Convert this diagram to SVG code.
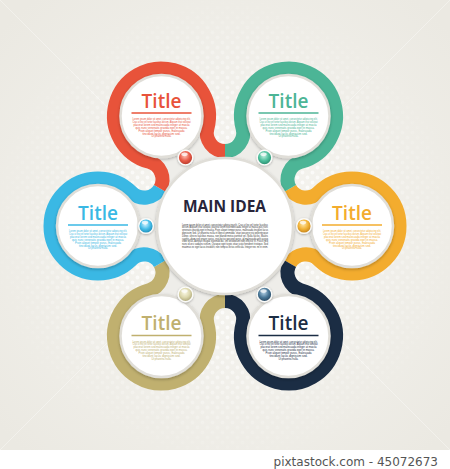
<svg xmlns="http://www.w3.org/2000/svg" width="450" height="469" viewBox="0 0 450 469">
<defs>
<style>
.band{fill:none;stroke-width:14;stroke-linecap:butt}
.disk{fill:#fff;stroke:#e0ded8;stroke-width:2.5;filter:url(#sh)}
.title{font-family:"Open Sans","Liberation Sans",sans-serif;font-weight:600;font-size:19px;text-anchor:middle}
.body{font-family:"Liberation Sans",sans-serif;font-size:3px;text-anchor:middle}
.ul{stroke-width:1.3}
.bead{stroke:#fbfbf9;stroke-width:1.4;filter:url(#bsh)}
.hl{fill:#fff;opacity:.75}
</style>
<filter id="sh" x="-20%" y="-20%" width="140%" height="140%"><feDropShadow dx="0" dy="1.2" stdDeviation="1.6" flood-color="#000" flood-opacity="0.28"/></filter>
<filter id="bsh" x="-40%" y="-40%" width="180%" height="180%"><feDropShadow dx="0" dy="0.8" stdDeviation="0.9" flood-color="#000" flood-opacity="0.3"/></filter>
<radialGradient id="bg" cx="225" cy="230" r="300" gradientUnits="userSpaceOnUse"><stop offset="0" stop-color="#f7f6f2"/><stop offset="1" stop-color="#ebe9e2"/></radialGradient>
<radialGradient id="mg" cx="225" cy="230" r="235" gradientUnits="userSpaceOnUse"><stop offset="0.35" stop-color="#fff" stop-opacity="1"/><stop offset="1" stop-color="#fff" stop-opacity="0"/></radialGradient>
<mask id="dm"><rect width="450" height="450" fill="url(#mg)"/></mask>
<pattern id="dots" width="10" height="10" patternUnits="userSpaceOnUse"><circle cx="2.5" cy="2.5" r="1.9" fill="#fff"/><circle cx="7.5" cy="7.5" r="1.9" fill="#fff"/></pattern>
<radialGradient id="b-red" cx="0.45" cy="0.38" r="0.62"><stop offset="0" stop-color="#ffc2b5"/><stop offset="0.55" stop-color="#e85b48"/><stop offset="1" stop-color="#b3382a"/></radialGradient>
<radialGradient id="b-teal" cx="0.45" cy="0.38" r="0.62"><stop offset="0" stop-color="#c2f0e0"/><stop offset="0.55" stop-color="#4cbf9c"/><stop offset="1" stop-color="#2a8a6c"/></radialGradient>
<radialGradient id="b-blue" cx="0.45" cy="0.38" r="0.62"><stop offset="0" stop-color="#d0f2ff"/><stop offset="0.55" stop-color="#45bde8"/><stop offset="1" stop-color="#1d8ab5"/></radialGradient>
<radialGradient id="b-orange" cx="0.45" cy="0.38" r="0.62"><stop offset="0" stop-color="#ffe6a8"/><stop offset="0.55" stop-color="#f1b236"/><stop offset="1" stop-color="#c2801a"/></radialGradient>
<radialGradient id="b-khaki" cx="0.45" cy="0.38" r="0.62"><stop offset="0" stop-color="#fbf9e6"/><stop offset="0.55" stop-color="#dcd7ac"/><stop offset="1" stop-color="#aaa376"/></radialGradient>
<radialGradient id="b-navy" cx="0.45" cy="0.38" r="0.62"><stop offset="0" stop-color="#b6d2e6"/><stop offset="0.55" stop-color="#4a7797"/><stop offset="1" stop-color="#27445d"/></radialGradient>
</defs>

<!-- background -->
<rect width="450" height="469" fill="#ffffff"/>
<rect width="450" height="450" fill="url(#bg)"/>
<rect width="450" height="450" fill="url(#dots)" mask="url(#dm)" opacity="0.75"/>
<g stroke="#ffffff" stroke-width="0.8" opacity="0.45">
<line x1="0" y1="0" x2="450" y2="450"/>
<line x1="450" y1="0" x2="0" y2="450"/>
</g>

<!-- flower base fill -->
<path d="M289.95,188.5 A18.185,18.185 0 0 0 318.52,192.31 A47.5,47.5 0 1 1 318.52,259.69 A18.185,18.185 0 0 0 289.95,263.5 A18.185,18.185 0 0 0 300.94,290.14 A47.5,47.5 0 1 1 242.58,323.84 A18.185,18.185 0 0 0 225,301 A18.185,18.185 0 0 0 207.42,323.84 A47.5,47.5 0 1 1 149.06,290.14 A18.185,18.185 0 0 0 160.05,263.5 A18.185,18.185 0 0 0 131.48,259.69 A47.5,47.5 0 1 1 131.48,192.31 A18.185,18.185 0 0 0 160.05,188.5 A18.185,18.185 0 0 0 149.06,161.86 A47.5,47.5 0 1 1 207.42,128.16 A18.185,18.185 0 0 0 225,151 A18.185,18.185 0 0 0 242.58,128.16 A47.5,47.5 0 1 1 300.94,161.86 A18.185,18.185 0 0 0 289.95,188.5 Z" fill="#eeede9"/>

<!-- connectors: coloured bands -->
<g id="connectors">
<path class="band" stroke="#f3ac2e" d="M289.95,188.5 A18.185,18.185 0 0 0 318.52,192.31 A47.5,47.5 0 1 1 318.52,259.69 A18.185,18.185 0 0 0 289.95,263.5"/>
<path class="band" stroke="#1b2d44" d="M289.95,263.5 A18.185,18.185 0 0 0 300.94,290.14 A47.5,47.5 0 1 1 242.58,323.84 A18.185,18.185 0 0 0 225,301"/>
<path class="band" stroke="#c0b06f" d="M225,301 A18.185,18.185 0 0 0 207.42,323.84 A47.5,47.5 0 1 1 149.06,290.14 A18.185,18.185 0 0 0 160.05,263.5"/>
<path class="band" stroke="#3ab8e4" d="M160.05,263.5 A18.185,18.185 0 0 0 131.48,259.69 A47.5,47.5 0 1 1 131.48,192.31 A18.185,18.185 0 0 0 160.05,188.5"/>
<path class="band" stroke="#e8533a" d="M160.05,188.5 A18.185,18.185 0 0 0 149.06,161.86 A47.5,47.5 0 1 1 207.42,128.16 A18.185,18.185 0 0 0 225,151"/>
<path class="band" stroke="#4cb596" d="M225,151 A18.185,18.185 0 0 0 242.58,128.16 A47.5,47.5 0 1 1 300.94,161.86 A18.185,18.185 0 0 0 289.95,188.5"/>
</g>

<!-- main idea -->
<g id="main">
<circle class="disk" cx="225" cy="226" r="68"/>
<text x="224.5" y="211.7" font-family="'Open Sans','Liberation Sans',sans-serif" font-weight="700" font-size="15.5" fill="#28253a" text-anchor="middle">MAIN IDEA</text>
<g class="body" fill="#3a3a3a">
<text x="225" y="225.5" textLength="86" lengthAdjust="spacingAndGlyphs">Lorem ipsum dolor sit amet, consectetur adipiscing elit. Cras ut leo vel tortor faucibus</text>
<text x="225" y="228.3" textLength="86" lengthAdjust="spacingAndGlyphs">dictum. Aliquam erat volutpat, placerat lorem sed malesuada integer at massa quis nunc</text>
<text x="225" y="231.1" textLength="86" lengthAdjust="spacingAndGlyphs">venenatis gravida eget in massa. Proin aliquet tempor purus, malesuada tincidunt lacus</text>
<text x="225" y="233.9" textLength="86" lengthAdjust="spacingAndGlyphs">dignissim sed. Ut pharetra nulla et libero commodo, vitae posuere nisi pellentesque</text>
<text x="225" y="236.7" textLength="86" lengthAdjust="spacingAndGlyphs">Donec ultrices faucibus massa, non blandit metus porttitor vel. Nulla facilisi. Mauris</text>
<text x="225" y="239.5" textLength="86" lengthAdjust="spacingAndGlyphs">sagittis, diam sed ornare varius, erat lectus posuere purus, id malesuada velit augue</text>
<text x="225" y="242.3" textLength="86" lengthAdjust="spacingAndGlyphs">vitae tellus. Aenean feugiat euismod dui, vel vestibulum nibh efficitur in. Fusce sed</text>
<text x="225" y="245.1" textLength="86" lengthAdjust="spacingAndGlyphs">nunc id orci sodales rutrum. Quisque eget turpis vitae justo hendrerit tristique. Sed</text>
<text x="225" y="247.9" textLength="86" lengthAdjust="spacingAndGlyphs">maximus ex eget lacus tincidunt, non tempus lectus vehicula. Integer nec mi in enim.</text>
</g>
</g>

<!-- red -->
<g id="node-red">
<circle class="disk" cx="161.5" cy="116" r="41"/>
<text class="title" x="161.5" y="108" fill="#e8533a">Title</text>
<line class="ul" x1="131.5" y1="113" x2="191.5" y2="113" stroke="#e8533a"/>
<g class="body" fill="#e8533a">
<text x="161.5" y="120" textLength="58" lengthAdjust="spacingAndGlyphs">Lorem ipsum dolor sit amet, consectetur adipiscing elit.</text>
<text x="161.5" y="122.9" textLength="58" lengthAdjust="spacingAndGlyphs">Cras ut leo vel tortor faucibus dictum. Aliquam erat volutpat</text>
<text x="161.5" y="125.8" textLength="56" lengthAdjust="spacingAndGlyphs">placerat lorem sed malesuada integer at massa</text>
<text x="161.5" y="128.7" textLength="52" lengthAdjust="spacingAndGlyphs">quis nunc venenatis gravida eget in massa.</text>
<text x="161.5" y="131.6" textLength="46" lengthAdjust="spacingAndGlyphs">Proin aliquet tempor purus, malesuada</text>
<text x="161.5" y="134.5" textLength="38" lengthAdjust="spacingAndGlyphs">tincidunt lacus dignissim sed.</text>
<text x="161.5" y="137.4" textLength="20" lengthAdjust="spacingAndGlyphs">Ut pharetra nulla.</text>
</g>
<circle class="bead" cx="185.5" cy="157.6" r="7.3" fill="url(#b-red)"/>
<ellipse class="hl" cx="184.5" cy="154.2" rx="3.2" ry="1.8"/>
</g>

<!-- teal -->
<g id="node-teal">
<circle class="disk" cx="288.5" cy="116" r="41"/>
<text class="title" x="288.5" y="108" fill="#4cb596">Title</text>
<line class="ul" x1="258.5" y1="113" x2="318.5" y2="113" stroke="#4cb596"/>
<g class="body" fill="#4cb596">
<text x="288.5" y="120" textLength="58" lengthAdjust="spacingAndGlyphs">Lorem ipsum dolor sit amet, consectetur adipiscing elit.</text>
<text x="288.5" y="122.9" textLength="58" lengthAdjust="spacingAndGlyphs">Cras ut leo vel tortor faucibus dictum. Aliquam erat volutpat</text>
<text x="288.5" y="125.8" textLength="56" lengthAdjust="spacingAndGlyphs">placerat lorem sed malesuada integer at massa</text>
<text x="288.5" y="128.7" textLength="52" lengthAdjust="spacingAndGlyphs">quis nunc venenatis gravida eget in massa.</text>
<text x="288.5" y="131.6" textLength="46" lengthAdjust="spacingAndGlyphs">Proin aliquet tempor purus, malesuada</text>
<text x="288.5" y="134.5" textLength="38" lengthAdjust="spacingAndGlyphs">tincidunt lacus dignissim sed.</text>
<text x="288.5" y="137.4" textLength="20" lengthAdjust="spacingAndGlyphs">Ut pharetra nulla.</text>
</g>
<circle class="bead" cx="264.5" cy="157.6" r="7.3" fill="url(#b-teal)"/>
<ellipse class="hl" cx="263.5" cy="154.2" rx="3.2" ry="1.8"/>
</g>

<!-- blue -->
<g id="node-blue">
<circle class="disk" cx="98" cy="226" r="41"/>
<text class="title" x="98" y="220" fill="#3ab8e4">Title</text>
<line class="ul" x1="68" y1="225" x2="128" y2="225" stroke="#3ab8e4"/>
<g class="body" fill="#3ab8e4">
<text x="98" y="232" textLength="58" lengthAdjust="spacingAndGlyphs">Lorem ipsum dolor sit amet, consectetur adipiscing elit.</text>
<text x="98" y="234.9" textLength="58" lengthAdjust="spacingAndGlyphs">Cras ut leo vel tortor faucibus dictum. Aliquam erat volutpat</text>
<text x="98" y="237.8" textLength="56" lengthAdjust="spacingAndGlyphs">placerat lorem sed malesuada integer at massa</text>
<text x="98" y="240.7" textLength="52" lengthAdjust="spacingAndGlyphs">quis nunc venenatis gravida eget in massa.</text>
<text x="98" y="243.6" textLength="46" lengthAdjust="spacingAndGlyphs">Proin aliquet tempor purus, malesuada</text>
<text x="98" y="246.5" textLength="38" lengthAdjust="spacingAndGlyphs">tincidunt lacus dignissim sed.</text>
<text x="98" y="249.4" textLength="20" lengthAdjust="spacingAndGlyphs">Ut pharetra nulla.</text>
</g>
<circle class="bead" cx="146" cy="226" r="7.3" fill="url(#b-blue)"/>
<ellipse class="hl" cx="145" cy="222.6" rx="3.2" ry="1.8"/>
</g>

<!-- orange -->
<g id="node-orange">
<circle class="disk" cx="352" cy="226" r="41"/>
<text class="title" x="352" y="220" fill="#f3ac2e">Title</text>
<line class="ul" x1="322" y1="225" x2="382" y2="225" stroke="#f3ac2e"/>
<g class="body" fill="#f3ac2e">
<text x="352" y="232" textLength="58" lengthAdjust="spacingAndGlyphs">Lorem ipsum dolor sit amet, consectetur adipiscing elit.</text>
<text x="352" y="234.9" textLength="58" lengthAdjust="spacingAndGlyphs">Cras ut leo vel tortor faucibus dictum. Aliquam erat volutpat</text>
<text x="352" y="237.8" textLength="56" lengthAdjust="spacingAndGlyphs">placerat lorem sed malesuada integer at massa</text>
<text x="352" y="240.7" textLength="52" lengthAdjust="spacingAndGlyphs">quis nunc venenatis gravida eget in massa.</text>
<text x="352" y="243.6" textLength="46" lengthAdjust="spacingAndGlyphs">Proin aliquet tempor purus, malesuada</text>
<text x="352" y="246.5" textLength="38" lengthAdjust="spacingAndGlyphs">tincidunt lacus dignissim sed.</text>
<text x="352" y="249.4" textLength="20" lengthAdjust="spacingAndGlyphs">Ut pharetra nulla.</text>
</g>
<circle class="bead" cx="304" cy="226" r="7.3" fill="url(#b-orange)"/>
<ellipse class="hl" cx="303" cy="222.6" rx="3.2" ry="1.8"/>
</g>

<!-- khaki -->
<g id="node-khaki">
<circle class="disk" cx="161.5" cy="336" r="41"/>
<text class="title" x="161.5" y="330" fill="#c0b06f">Title</text>
<line class="ul" x1="131.5" y1="335.5" x2="191.5" y2="335.5" stroke="#c0b06f"/>
<g class="body" fill="#c0b06f">
<text x="161.5" y="342.5" textLength="58" lengthAdjust="spacingAndGlyphs">Lorem ipsum dolor sit amet, consectetur adipiscing elit.</text>
<text x="161.5" y="345.4" textLength="58" lengthAdjust="spacingAndGlyphs">Cras ut leo vel tortor faucibus dictum. Aliquam erat volutpat</text>
<text x="161.5" y="348.3" textLength="56" lengthAdjust="spacingAndGlyphs">placerat lorem sed malesuada integer at massa</text>
<text x="161.5" y="351.2" textLength="52" lengthAdjust="spacingAndGlyphs">quis nunc venenatis gravida eget in massa.</text>
<text x="161.5" y="354.1" textLength="46" lengthAdjust="spacingAndGlyphs">Proin aliquet tempor purus, malesuada</text>
<text x="161.5" y="357" textLength="38" lengthAdjust="spacingAndGlyphs">tincidunt lacus dignissim sed.</text>
<text x="161.5" y="359.9" textLength="20" lengthAdjust="spacingAndGlyphs">Ut pharetra nulla.</text>
</g>
<circle class="bead" cx="185.5" cy="294.4" r="7.3" fill="url(#b-khaki)"/>
<ellipse class="hl" cx="184.5" cy="291" rx="3.2" ry="1.8"/>
</g>

<!-- navy -->
<g id="node-navy">
<circle class="disk" cx="288.5" cy="336" r="41"/>
<text class="title" x="288.5" y="330" fill="#1b2d44">Title</text>
<line class="ul" x1="258.5" y1="335.5" x2="318.5" y2="335.5" stroke="#1b2d44"/>
<g class="body" fill="#1b2d44">
<text x="288.5" y="342.5" textLength="58" lengthAdjust="spacingAndGlyphs">Lorem ipsum dolor sit amet, consectetur adipiscing elit.</text>
<text x="288.5" y="345.4" textLength="58" lengthAdjust="spacingAndGlyphs">Cras ut leo vel tortor faucibus dictum. Aliquam erat volutpat</text>
<text x="288.5" y="348.3" textLength="56" lengthAdjust="spacingAndGlyphs">placerat lorem sed malesuada integer at massa</text>
<text x="288.5" y="351.2" textLength="52" lengthAdjust="spacingAndGlyphs">quis nunc venenatis gravida eget in massa.</text>
<text x="288.5" y="354.1" textLength="46" lengthAdjust="spacingAndGlyphs">Proin aliquet tempor purus, malesuada</text>
<text x="288.5" y="357" textLength="38" lengthAdjust="spacingAndGlyphs">tincidunt lacus dignissim sed.</text>
<text x="288.5" y="359.9" textLength="20" lengthAdjust="spacingAndGlyphs">Ut pharetra nulla.</text>
</g>
<circle class="bead" cx="264.5" cy="294.4" r="7.3" fill="url(#b-navy)"/>
<ellipse class="hl" cx="263.5" cy="291" rx="3.2" ry="1.8"/>
</g>

<text x="438" y="465.5" font-family="'DejaVu Sans',sans-serif" font-size="12" fill="#555555" text-anchor="end">pixtastock.com - 45072673</text>
</svg>
